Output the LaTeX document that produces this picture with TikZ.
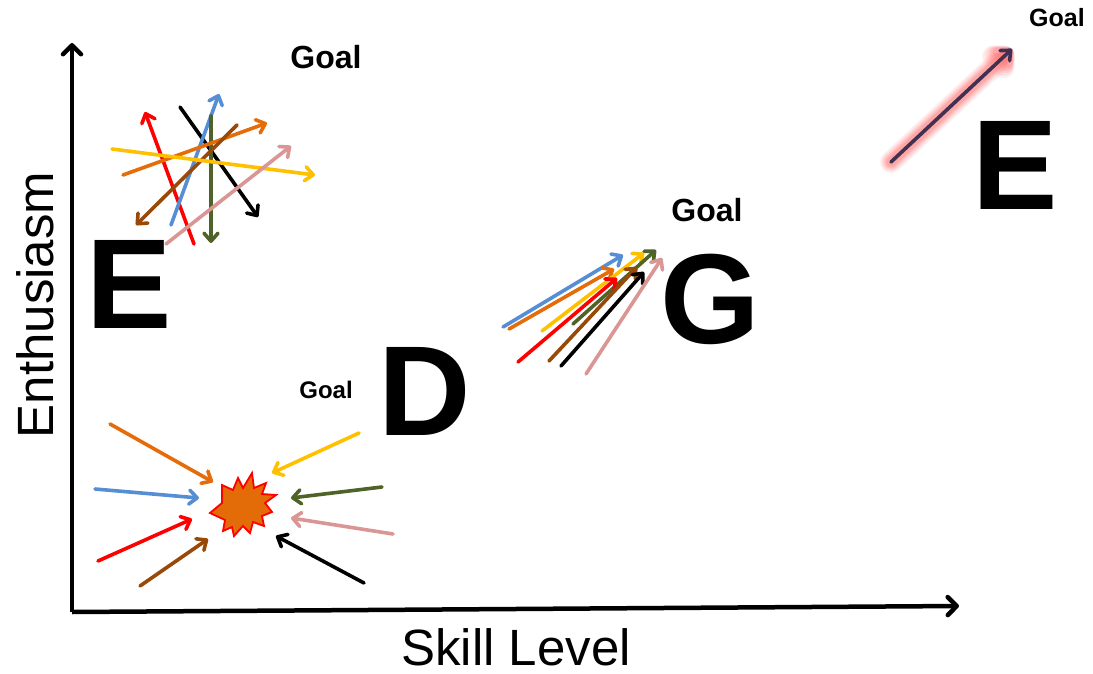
\documentclass[tikz,border=0pt]{standalone}
\usepackage{fontspec}
\setmainfont{Liberation Sans}
\usetikzlibrary{arrows.meta}
\definecolor{cRed}{HTML}{FF0000}
\definecolor{cBlue}{HTML}{558ED5}
\definecolor{cOlive}{HTML}{4F6228}
\definecolor{cOrange}{HTML}{E46C0A}
\definecolor{cBrown}{HTML}{984807}
\definecolor{cGold}{HTML}{FFC000}
\definecolor{cPink}{HTML}{D99694}
\definecolor{cNavy}{HTML}{403152}
\definecolor{cBurst}{HTML}{E36C09}
\definecolor{cGlow}{HTML}{FF6A6A}
\tikzset{
  arr/.style={line width=3.6pt, line cap=round, -{Straight Barb[length=8pt,width=14pt,line cap=round,line join=round]}},
  axis/.style={line width=4.5pt, -{Straight Barb[length=9pt,width=18pt,line cap=round,line join=round]}},
  big/.style={font=\bfseries\fontsize{128}{130}\selectfont, inner sep=0pt},
  goal/.style={font=\bfseries\fontsize{#1}{#1}\selectfont, inner sep=0pt},
  axlabel/.style={font=\fontsize{51}{52}\selectfont, inner sep=0pt},
}
\begin{document}
\begin{tikzpicture}[x=1pt,y=-1pt]
\useasboundingbox (0,0) rectangle (1093,674);
% axes
\coordinate (origin) at (72,612);
\coordinate (ytip) at (72,43);
\coordinate (xtip) at (959,606);
\draw[axis] (origin) -- (ytip);
\draw[axis] (origin) -- (xtip);
\node[axlabel, rotate=90] (ylab) at (35,305) {Enthusiasm};
\node[axlabel] (xlab) at (516,647) {Skill Level};
% big letters
\node[big] (E1) at (129,284) {E};
\node[big] (D) at (425,391) {D};
\node[big] (G) at (710,299) {G};
\node[big] (E2) at (1015,165) {E};
% goals
\node[goal=32] (g1) at (326,57) {Goal};
\node[goal=32] (g2) at (707,210) {Goal};
\node[goal=24] (g3) at (326,390) {Goal};
\node[goal=25] (g4) at (1057,18) {Goal};
% top-left chaotic arrows
\draw[arr, cRed] (194,244) -- (145,112);
\draw[arr, black] (180,107) -- (258,217);
\draw[arr, cBlue] (171,225) -- (219,94);
\draw[arr, cOlive] (211,116) -- (211,243);
\draw[arr, cOrange] (123,175) -- (267,123);
\draw[arr, cBrown] (237,125) -- (136,225);
\draw[arr, cGold] (112,149) -- (315,175);
\draw[arr, cPink] (166,244) -- (291,146);
% burst
\node[inner sep=0pt] (burst) at (242,505) {};
\filldraw[fill=cBurst, draw=cRed, line width=1.8pt, line join=miter]
  (210,513) -- (222,503) -- (222,485) -- (233,490) -- (238,478) -- (243,488)
  -- (252,473) -- (254,488) -- (266,483) -- (262,494) -- (276,495) -- (265,503)
  -- (272,512) -- (262,516) -- (264,526) -- (253,522) -- (250,533) -- (243,526)
  -- (234,536) -- (232,527) -- (223,531) -- (225,520) -- cycle;
% bottom-left converging arrows
\draw[arr, cOrange] (110,424) -- (213,482);
\draw[arr, cBlue] (95,489) -- (199,498);
\draw[arr, cRed] (98,561) -- (192,519);
\draw[arr, cBrown] (140,586) -- (208,539);
\draw[arr, cGold] (359,433) -- (272,473);
\draw[arr, cOlive] (382,487) -- (291,498);
\draw[arr, cPink] (393,534) -- (291,518);
\draw[arr, black] (364,583) -- (276,536);
% middle aligned arrows
\draw[arr, cBlue] (503,327) -- (623,255);
\draw[arr, cOrange] (509,329) -- (614,269);
\draw[arr, cGold] (542,331) -- (644,253);
\draw[arr, cOlive] (573,324) -- (656,250);
\draw[arr, cRed] (518,362) -- (617,278);
\draw[arr, cBrown] (549,361) -- (637,267);
\draw[arr, black] (561,366) -- (644,272);
\draw[arr, cPink] (586,374) -- (662,258);
% top-right arrow with glow
\coordinate (ts) at (891,162);
\coordinate (te) at (1012,49);
\foreach \w/\o in {22/0.10, 19/0.12, 16/0.15, 13/0.2, 10/0.25} {
  \draw[line width=\w pt, line cap=round, line join=round, cGlow, opacity=\o,
        -{Straight Barb[length=8pt,width=15pt,line cap=round,line join=round]}] (ts) -- (te);
}
\draw[arr, cNavy] (ts) -- (te);
\end{tikzpicture}
\end{document}
